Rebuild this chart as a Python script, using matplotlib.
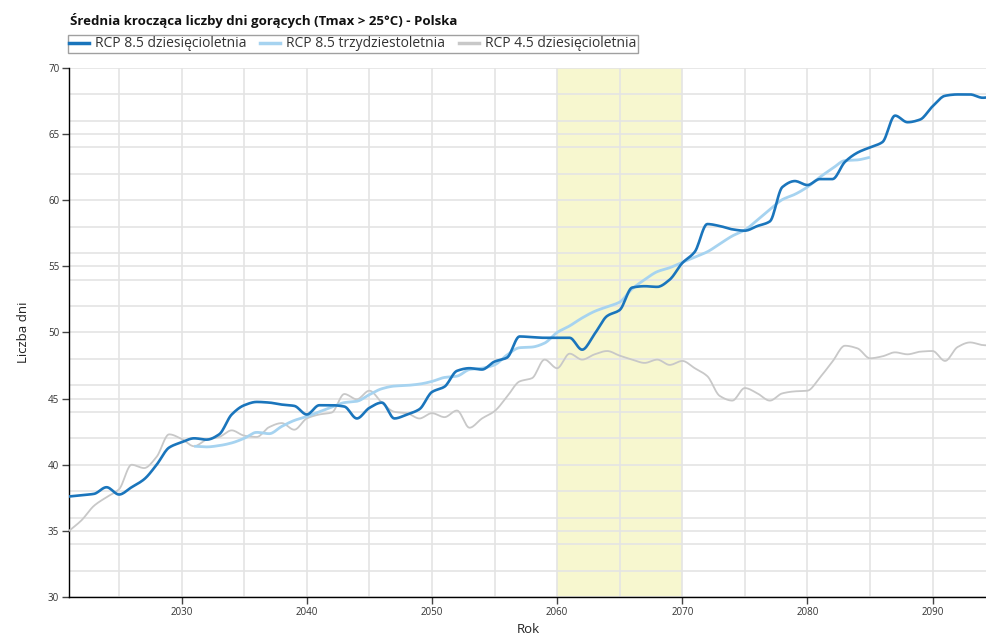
import numpy as np
import matplotlib
matplotlib.use("Agg")
import matplotlib.pyplot as plt
from matplotlib.lines import Line2D

# ---- data ----
years_a = list(range(2021, 2096))
rcp85_10 = [37.6, 37.7, 37.8, 38.3, 37.75, 38.3, 38.9, 40.0, 41.3, 41.7,
            42.0, 41.9, 42.3, 43.8, 44.5, 44.75, 44.7, 44.55, 44.45, 43.8,
            44.5, 44.5, 44.4, 43.5, 44.3, 44.7, 43.5, 43.8, 44.2, 45.5,
            45.9, 47.1, 47.3, 47.2, 47.8, 48.1, 49.7, 49.65, 49.6, 49.6,
            49.6, 48.7, 49.9, 51.25, 51.7, 53.4, 53.5, 53.45, 54.0, 55.25,
            56.1, 58.2, 58.05, 57.8, 57.7, 58.05, 58.4, 61.0, 61.45, 61.15,
            61.6, 61.6, 62.9, 63.6, 64.0, 64.4, 66.4, 65.9, 66.1, 67.1,
            67.9, 68.0, 68.0, 67.75, 67.9]

years_b = list(range(2031, 2086))
rcp85_30 = [41.4, 41.35, 41.45, 41.65, 42.0, 42.45, 42.35, 42.9, 43.35, 43.65,
            44.0, 44.35, 44.7, 44.8, 45.3, 45.75, 45.95, 46.0, 46.1, 46.3,
            46.6, 46.7, 47.2, 47.3, 47.55, 48.3, 48.85, 48.9, 49.2, 50.0,
            50.5, 51.1, 51.6, 51.95, 52.3, 53.3, 54.0, 54.6, 54.9, 55.3,
            55.7, 56.1, 56.7, 57.3, 57.75, 58.5, 59.3, 60.05, 60.45, 61.0,
            61.75, 62.4, 63.0, 63.05, 63.25]

rcp45_10 = [35.0, 35.8, 36.9, 37.55, 38.15, 40.0, 39.75, 40.6, 42.3, 41.95,
            41.4, 41.9, 42.1, 42.6, 42.2, 42.1, 42.85, 43.15, 42.65, 43.5,
            43.8, 43.95, 45.35, 44.95, 45.6, 44.7, 44.0, 43.9, 43.5, 43.9,
            43.6, 44.1, 42.8, 43.5, 44.05, 45.15, 46.3, 46.55, 47.95, 47.3,
            48.4, 47.95, 48.35, 48.6, 48.25, 47.95, 47.7, 47.95, 47.55, 47.85,
            47.3, 46.7, 45.2, 44.85, 45.8, 45.4, 44.85, 45.4, 45.55, 45.6,
            46.6, 47.8, 49.0, 48.8, 48.05, 48.2, 48.5, 48.35, 48.55, 48.6,
            47.85, 48.9, 49.25, 49.05, 49.0]

labels = ["RCP 8.5 dziesięcioletnia", "RCP 8.5 trzydziestoletnia", "RCP 4.5 dziesięcioletnia"]
colors = ["#1a75bc", "#a6d3f0", "#c8c8c8"]
title = "Średnia krocząca liczby dni gorących (Tmax > 25°C) - Polska"
period = (2060, 2070)


def monotone(x, y, n=12):
    """Monotone cubic (Fritsch-Carlson) curve through the given points, for drawing."""
    x = np.asarray(x, float); y = np.asarray(y, float)
    h = np.diff(x); d = np.diff(y) / h
    m = np.zeros_like(y)
    m[0], m[-1] = d[0], d[-1]
    for i in range(1, len(y) - 1):
        if d[i - 1] * d[i] <= 0:
            m[i] = 0
        else:
            w1 = 2 * h[i] + h[i - 1]; w2 = h[i] + 2 * h[i - 1]
            m[i] = (w1 + w2) / (w1 / d[i - 1] + w2 / d[i])
    xs, ys = [], []
    for i in range(len(h)):
        t = np.linspace(0, 1, n, endpoint=False)
        h00 = 2*t**3 - 3*t**2 + 1; h10 = t**3 - 2*t**2 + t
        h01 = -2*t**3 + 3*t**2; h11 = t**3 - t**2
        xs.append(x[i] + t * h[i])
        ys.append(h00*y[i] + h10*h[i]*m[i] + h01*y[i+1] + h11*h[i]*m[i+1])
    xs.append([x[-1]]); ys.append([y[-1]])
    return np.concatenate(xs), np.concatenate(ys)


plt.rcParams['font.family'] = ['Open Sans', 'DejaVu Sans']

fig = plt.figure(figsize=(9.87, 6.35), dpi=100)
ax = fig.add_axes([69/987, (635-597)/635, (987-69)/987, (597-68)/635])

ax.axvspan(*period, color="#f7f7cf", zorder=0, lw=0)

ax.set_xlim(2021, 2094.35)
ax.set_ylim(30, 70)
ax.set_xticks(range(2030, 2091, 10))
ax.set_yticks(range(30, 71, 5))
ax.set_xticks(range(2025, 2095, 5), minor=True)
ax.set_yticks(range(30, 71, 2), minor=True)
ax.grid(True, which="both", color="#e4e4e4", lw=1.2, zorder=1)
ax.tick_params(which="minor", length=0)
ax.tick_params(which="major", direction="out", length=5, width=1, colors="#444444",
               labelsize=7, labelcolor="#333333", pad=2)
for s in ["top", "right"]:
    ax.spines[s].set_visible(False)
for s in ["left", "bottom"]:
    ax.spines[s].set_color("#000000")
    ax.spines[s].set_linewidth(1)

xg, yg = monotone(years_a, rcp45_10)
ax.plot(xg, yg, color=colors[2], lw=1.3, zorder=3, clip_on=True)
xl, yl = monotone(years_b, rcp85_30)
ax.plot(xl, yl, color=colors[1], lw=2.0, zorder=4, solid_capstyle="butt")
xd, yd = monotone(years_a, rcp85_10)
ax.plot(xd, yd, color=colors[0], lw=1.9, zorder=5)

ax.set_xlabel("Rok", fontsize=9.5, color="#222222", labelpad=4)
ax.set_ylabel("Liczba dni", fontsize=9.5, color="#222222", labelpad=13)

fig.text(70/987, 1 - 20/635, title, fontsize=9.5, fontweight="bold", ha="left", va="center",
         color="#111111")

handles = [Line2D([0], [0], color=c, lw=2.5) for c in colors]
leg = fig.legend(handles, labels, loc="upper left", bbox_to_anchor=(68/987, 1 - 35/635),
                 ncol=3, fontsize=10, frameon=True, fancybox=False, edgecolor="#888888",
                 handlelength=1.4, handletextpad=0.45, columnspacing=1.0,
                 borderpad=0.1, borderaxespad=0)
leg.get_frame().set_linewidth(1)
for t in leg.get_texts():
    t.set_color("#333333")

fig.savefig("out.png", dpi=100)
